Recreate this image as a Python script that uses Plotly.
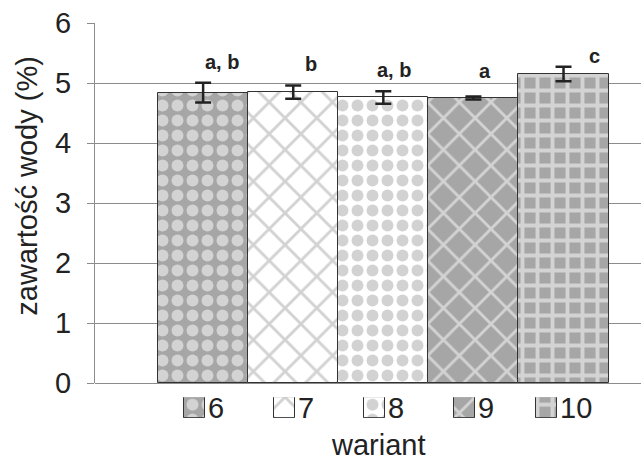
import plotly.graph_objects as go

# ---- data ----
categories = ["6", "7", "8", "9", "10"]
water = [4.84, 4.85, 4.76, 4.75, 5.15]
err = [0.165, 0.11, 0.105, 0.025, 0.12]
letters = ["a, b", "b", "a, b", "a", "c"]
y_ticks = [0, 1, 2, 3, 4, 5, 6]

# ---- style ----
GRAY = "#a6a6a6"
DARK = "#222222"
LINE = "#8c8c8c"
FONT = "Liberation Sans, Arial, sans-serif"
FS = 29
patterns = [
    dict(shape=".", fgcolor="white", bgcolor=GRAY, size=15, solidity=0.5),
    dict(shape="x", fgcolor=GRAY, bgcolor="white", size=22.4, solidity=0.24),
    dict(shape=".", fgcolor=GRAY, bgcolor="white", size=15, solidity=0.5),
    dict(shape="x", fgcolor="white", bgcolor=GRAY, size=22.4, solidity=0.24),
    dict(shape="+", fgcolor="white", bgcolor=GRAY, size=15, solidity=0.45),
]
letter_dx = [18.5, 18, 10.5, 11.5, 31]      # px
letter_dy = [7, 8.5, 8, 12, -2]             # px

# page geometry (the captured page area is 641x477, shown at 641x461)
W, H = 641, 477
SY = H / 461.0


def pg(y_ref):          # reference pixel row -> page pixel row
    return y_ref * SY


PLOT_L, PLOT_T, PLOT_B = 95, pg(22), pg(383)
ML, MT, MR, MB = PLOT_L, PLOT_T, 0, 0
PW, PH = W - ML - MR, H - MT - MB
unit_px = 90.1
x_range = [-1.2, -1.2 + PW / unit_px]


def py(y_ref):          # reference pixel row -> paper fraction
    return (H - pg(y_ref)) / PH


def pxf(x_ref):         # reference pixel column -> paper fraction
    return (x_ref - PLOT_L) / PW


main_bottom = py(383)
icon_dom = [py(418), py(397)]
icon_w_px = 21

fig = go.Figure()
n = len(categories)
xs = list(range(n))

for i in range(n):
    fig.add_trace(go.Bar(
        x=[xs[i]], y=[water[i]], width=1, name=categories[i],
        marker=dict(color=patterns[i]["bgcolor"], pattern=patterns[i],
                    line=dict(color="#333333", width=1)),
        error_y=dict(type="data", array=[err[i]], color=DARK, thickness=2.5, width=8),
        showlegend=False, hoverinfo="y",
    ))

# legend-like icons under the bars
for i in range(n):
    txt_w = 0.556 * FS * len(categories[i])
    group = icon_w_px + 2 + txt_w
    icon_center_px = -group / 2 + icon_w_px / 2
    xc = xs[i] + icon_center_px / unit_px
    fig.add_trace(go.Bar(
        x=[xc], y=[1], width=icon_w_px / unit_px, xaxis="x2", yaxis="y2",
        marker=dict(color=patterns[i]["bgcolor"], pattern=patterns[i],
                    line=dict(color="#333333", width=1)),
        showlegend=False, hoverinfo="skip",
    ))
    fig.add_annotation(
        x=xc, y=0.5, xref="x2", yref="y2", xanchor="left", yanchor="middle",
        xshift=icon_w_px / 2 + 1, text=categories[i], showarrow=False,
        font=dict(family=FONT, size=FS, color=DARK),
    )

for i in range(n):
    fig.add_annotation(
        x=xs[i], y=water[i] + err[i], xref="x", yref="y",
        xanchor="center", yanchor="bottom", xshift=letter_dx[i],
        yshift=letter_dy[i] * SY,
        text="<b>%s</b>" % letters[i], showarrow=False,
        font=dict(family=FONT, size=20, color=DARK),
    )

fig.add_annotation(
    x=pxf(27), y=py(186), xref="paper", yref="paper",
    text="zawartość wody (%)", textangle=-90, showarrow=False,
    xanchor="center", yanchor="middle", font=dict(family=FONT, size=FS, color=DARK),
)
fig.add_annotation(
    x=pxf(378), y=py(445), xref="paper", yref="paper",
    text="wariant", showarrow=False, xanchor="center", yanchor="middle",
    font=dict(family=FONT, size=FS, color=DARK),
)

# small extension of the y axis line below zero
fig.add_shape(type="line", xref="paper", yref="y", x0=0, x1=0, y0=0, y1=-0.15,
              line=dict(color=LINE, width=1.3))

fig.update_layout(
    width=W, height=H, margin=dict(l=ML, r=MR, t=MT, b=MB),
    paper_bgcolor="white", plot_bgcolor="white", barmode="overlay", bargap=0,
    xaxis=dict(range=x_range, showticklabels=False, showgrid=False, zeroline=False,
               showline=False, ticks=""),
    yaxis=dict(range=[0, 6], domain=[main_bottom, 1], tickvals=y_ticks,
               showgrid=True, gridcolor=LINE, gridwidth=1.3,
               zeroline=True, zerolinecolor=LINE, zerolinewidth=1.3,
               showline=True, linecolor=LINE, linewidth=1.3,
               ticks="outside", ticklen=7, tickcolor=LINE, tickwidth=1.3,
               ticklabelstandoff=10, ticklabeloverflow="allow",
               tickfont=dict(family=FONT, size=FS, color=DARK)),
    xaxis2=dict(range=x_range, anchor="y2", showticklabels=False, showgrid=False,
                zeroline=False, showline=False, ticks=""),
    yaxis2=dict(range=[0, 1], domain=icon_dom, anchor="x2", showticklabels=False,
                showgrid=False, zeroline=False, showline=False, ticks=""),
)

fig.write_html(
    "out.html",
    config={"displayModeBar": False},
    post_script="document.body.style.margin='0';document.body.style.overflow='hidden';",
)
